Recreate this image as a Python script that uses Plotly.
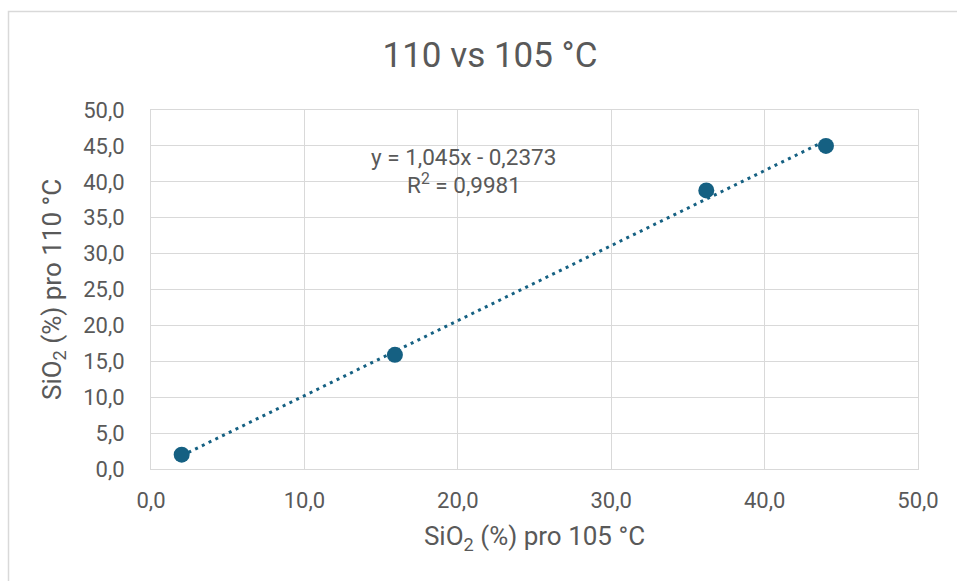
import plotly.graph_objects as go

# SiO2 content measured after drying at 105 °C (x) and 110 °C (y)
sio2_105 = [2.0, 15.9, 36.2, 44.0]
sio2_110 = [2.0, 15.9, 38.8, 45.0]

# Linear trendline coefficients shown in the label
slope = 1.045
intercept = -0.2373
r_squared = 0.9981

x_ticks = [0, 10, 20, 30, 40, 50]
y_ticks = [0, 5, 10, 15, 20, 25, 30, 35, 40, 45, 50]

accent = "#156082"
text_col = "#595959"
grid_col = "#D9D9D9"
font_family = "Roboto, Arial, sans-serif"

x_lo, x_hi = min(sio2_105), max(sio2_105)
trend_x = [x_lo, x_hi]
trend_y = [slope * v + intercept for v in trend_x]

fig = go.Figure()
fig.add_trace(go.Scatter(
    x=trend_x, y=trend_y, mode="lines",
    line=dict(color=accent, width=3, dash="3px,4.5px"),
    hoverinfo="skip", showlegend=False,
))
fig.add_trace(go.Scatter(
    x=sio2_105, y=sio2_110, mode="markers",
    marker=dict(color=accent, size=16, line=dict(width=0)),
    showlegend=False,
))

def fmt(v, nd):
    return f"{v:.{nd}f}".replace(".", ",")

sign = "-" if intercept < 0 else "+"
eq_line = f"y = {fmt(slope, 3)}x {sign} {fmt(abs(intercept), 4)}"
r2_line = f"R<sup>2</sup> = {fmt(r_squared, 4)}"

label_font = dict(family=font_family, size=22.5, color=text_col)
fig.add_annotation(x=20.4, y=43.4, xref="x", yref="y", text=eq_line,
                   showarrow=False, font=label_font)
fig.add_annotation(x=20.4, y=39.8, xref="x", yref="y", text=r2_line,
                   showarrow=False, font=label_font)

fig.update_layout(
    width=957, height=581,
    margin=dict(l=151, r=39, t=110, b=112),
    paper_bgcolor="white", plot_bgcolor="white",
    separators=",.",
    font=dict(family=font_family, color=text_col),
    title=dict(text="110 vs 105 °C", x=490 / 957, xanchor="center",
               y=1 - 55 / 581, yanchor="middle",
               font=dict(size=35, color=text_col, family=font_family)),
    xaxis=dict(
        range=[0, 50], tickvals=x_ticks, tickformat=".1f",
        showgrid=True, gridcolor=grid_col, gridwidth=1,
        showline=True, linecolor=grid_col, linewidth=1, mirror=True,
        zeroline=False, ticks="", tickfont=dict(size=22, color=text_col),
        ticklabelstandoff=12,
        title=dict(text="SiO<sub>2</sub> (%) pro 105 °C",
                   font=dict(size=26, color=text_col), standoff=14),
    ),
    yaxis=dict(
        range=[0, 50], tickvals=y_ticks, tickformat=".1f",
        showgrid=True, gridcolor=grid_col, gridwidth=1,
        showline=True, linecolor=grid_col, linewidth=1, mirror=True,
        zeroline=False, ticks="", tickfont=dict(size=22, color=text_col),
        ticklabelstandoff=21,
        title=dict(text="SiO<sub>2</sub> (%) pro 110 °C",
                   font=dict(size=26, color=text_col), standoff=14),
    ),
)

# Chart-area frame
fig.add_shape(type="rect", xref="paper", yref="paper",
              x0=(8.5 - 151) / 767, x1=1.2, y0=-0.5, y1=(469 - 11.5) / 359,
              line=dict(color="#D9D9D9", width=1.5), layer="below")

fig.write_html("out.html")
